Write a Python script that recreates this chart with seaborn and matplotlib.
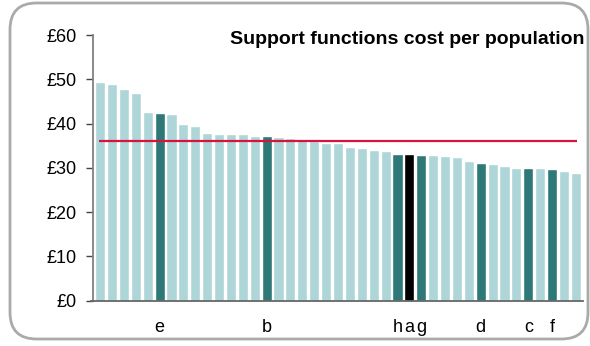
import numpy as np
import pandas as pd
import seaborn as sns
import matplotlib.pyplot as plt
from matplotlib.patches import FancyBboxPatch

# Values, sorted high to low
costs = [49.3, 48.9, 47.9, 46.9, 42.6, 42.4, 42.2, 40.0, 39.5, 37.9,
         37.7, 37.6, 37.6, 37.2, 37.1, 37.0, 36.7, 36.4, 36.1, 35.7,
         35.7, 34.7, 34.5, 34.0, 33.8, 33.1, 33.1, 32.9, 32.9, 32.7,
         32.4, 31.5, 31.2, 30.9, 30.4, 30.0, 30.0, 29.95, 29.7, 29.4,
         28.9]
# labelled bars: position -> letter
labels = {5: "e", 14: "b", 25: "h", 26: "a", 27: "g", 32: "d", 36: "c", 38: "f"}
highlight = "a"
average = 36.1
title = "Support functions cost per population"

light = "#aed5d8"
dark = "#2e7878"

df = pd.DataFrame({"pos": range(len(costs)), "cost": costs})
colors = []
for i in df["pos"]:
    if labels.get(i) == highlight:
        colors.append("black")
    elif i in labels:
        colors.append(dark)
    else:
        colors.append(light)

sns.set_style("white")
plt.rcParams["font.family"] = ["Liberation Sans", "DejaVu Sans"]
plt.rcParams["text.color"] = "black"
plt.rcParams["xtick.color"] = "black"
plt.rcParams["ytick.color"] = "black"

fig = plt.figure(figsize=(5.9, 3.46), dpi=100)
ax = fig.add_axes([93 / 590, 1 - 300.7 / 346, 490 / 590, (300.7 - 35) / 346])

sns.barplot(data=df, x="pos", y="cost", hue="pos", palette=colors,
            legend=False, width=0.85, saturation=1, ax=ax)

ax.hlines(average, -0.1, len(costs) - 0.9, color="#d9143c", lw=1.6, zorder=5)

ax.set_xlim(-0.6, len(costs) - 0.4)
ax.set_ylim(0, 60)
ax.set_yticks(range(0, 61, 10))
ax.set_yticklabels([f"£{v}" for v in range(0, 61, 10)], fontsize=13)
ax.set_xticks(list(labels.keys()))
ax.set_xticklabels(list(labels.values()), fontsize=13)
ax.tick_params(axis="x", length=0, pad=13)
ax.tick_params(axis="y", length=5, width=1, color="#444444", pad=7, left=True)
ax.set_xlabel("")
ax.set_ylabel("")

for s in ["top", "right"]:
    ax.spines[s].set_visible(False)
ax.spines["left"].set_color("#808080")
ax.spines["left"].set_linewidth(1.3)
ax.spines["bottom"].set_color("#666666")
ax.spines["bottom"].set_linewidth(1.3)
ax.spines["bottom"].set_bounds(-0.8, len(costs) - 0.4)

fig.text(584 / 590, 1 - 31 / 346, title, ha="right", va="top",
         fontsize=14, fontweight="bold", color="black")

frame = FancyBboxPatch((10 / 590, 7 / 346), 578 / 590, 336 / 346,
                       boxstyle="round,pad=0,rounding_size=0.045",
                       transform=fig.transFigure, fill=False,
                       edgecolor="#aaaaaa", lw=2, mutation_aspect=590 / 346)
fig.patches.append(frame)

fig.savefig("out.png", dpi=100)
